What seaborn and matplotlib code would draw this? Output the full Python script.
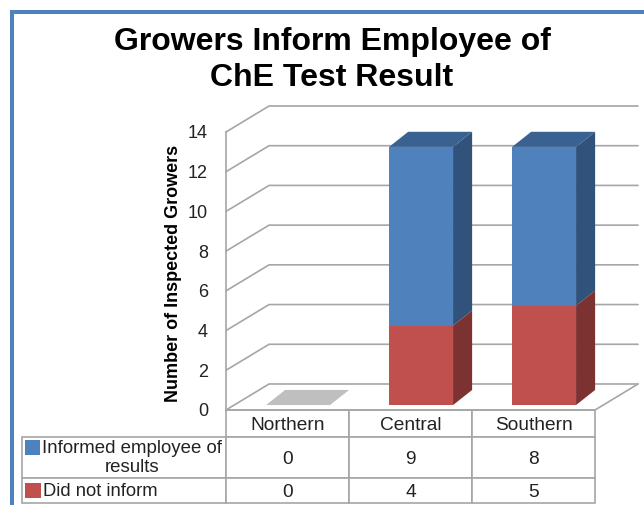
"""Stacked pseudo-3D bars with a data table: growers informing employees of ChE results."""

import matplotlib.pyplot as plt
import pandas as pd
import seaborn as sns
from matplotlib.patches import Polygon, Rectangle

regions = ["Northern", "Central", "Southern"]
informed = [0, 9, 8]
did_not_inform = [0, 4, 5]
series_names = ["Informed employee of\nresults", "Did not inform"]
y_ticks = [0, 2, 4, 6, 8, 10, 12, 14]

BLUE, BLUE_SIDE, BLUE_TOP = "#4F81BD", "#31527A", "#3A6290"
RED, RED_SIDE = "#C0504D", "#7C3231"
GRID = "#A6A6A6"
W, H = 644, 505

sns.set_theme(style="white")
plt.rcParams["font.family"] = ["Liberation Sans", "DejaVu Sans"]

fig = plt.figure(figsize=(W / 100, H / 100), dpi=100)
ax = fig.add_axes([226 / W, 1 - 410 / H, 369 / W, 278 / H])

df = pd.DataFrame({"region": regions, "informed": informed, "not_informed": did_not_inform})
df["total"] = df["informed"] + df["not_informed"]

# stacked look: full height in blue, red drawn over it
sns.barplot(data=df, x="region", y="total", color=BLUE, saturation=1, width=0.52, linewidth=0, ax=ax)
sns.barplot(data=df, x="region", y="not_informed", color=RED, saturation=1, width=0.52, linewidth=0, ax=ax)
ax.set_xlim(-0.5, 2.5)
ax.set_ylim(0, 14)

# depth of the box and of the bars, in data units
wall_dx, wall_dy = 0.35, 1.31
bar_dx, bar_dy = 0.155, 0.76
shift_x, shift_y = 0.086, 0.25


def face(points, color, z=1.0, lw=0.0):
    ax.add_patch(Polygon(points, closed=True, facecolor=color, edgecolor=color, lw=lw, zorder=z, clip_on=False))


# back wall gridlines and floor
for t in y_ticks:
    ax.plot([-0.5, -0.5 + wall_dx, 2.5 + wall_dx], [t, t + wall_dy, t + wall_dy], color=GRID, lw=1.2, zorder=0.5, clip_on=False)
ax.plot([2.5, 2.5 + wall_dx], [0, wall_dy], color=GRID, lw=1.2, zorder=0.5, clip_on=False)

n = len(regions)
for i, patch in enumerate(ax.patches[:2 * n]):
    patch.set_x(patch.get_x() + shift_x)
    patch.set_y(patch.get_y() + shift_y)
    patch.set_zorder(2 if i < n else 2.1)
    patch.set_clip_on(False)

for i in range(n):
    blue, red = ax.patches[i], ax.patches[i + n]
    x0, x1 = blue.get_x(), blue.get_x() + blue.get_width()
    y0, yr, yt = blue.get_y(), red.get_y() + red.get_height(), blue.get_y() + blue.get_height()
    top_color = BLUE_TOP if df["total"][i] > 0 else "#BFBFBF"
    face([(x0, yt), (x1, yt), (x1 + bar_dx, yt + bar_dy), (x0 + bar_dx, yt + bar_dy)], top_color, 1.9)
    if df["total"][i] > 0:
        face([(x1, yr), (x1, yt), (x1 + bar_dx, yt + bar_dy), (x1 + bar_dx, yr + bar_dy)], BLUE_SIDE, 1.8)
        face([(x1, y0), (x1, yr), (x1 + bar_dx, yr + bar_dy), (x1 + bar_dx, y0 + bar_dy)], RED_SIDE, 1.85)

ax.set_yticks(y_ticks)
ax.tick_params(axis="y", labelsize=13, length=0, pad=13, labelcolor="#222222")
ax.set_xticks([])
ax.set_xlabel("")
ax.set_ylabel("Number of Inspected Growers", fontsize=13, fontweight="bold", color="black")
ax.yaxis.set_label_coords(-0.118, 0.49)
sns.despine(ax=ax, left=False, bottom=False, right=True, top=True)
for side in ["left", "bottom"]:
    ax.spines[side].set_color(GRID)
    ax.spines[side].set_linewidth(1.2)

# data table under the axes
table_rows = [
    [""] + regions,
    [""] + [str(v) for v in informed],
    [""] + [str(v) for v in did_not_inform],
]
table = ax.table(
    cellText=table_rows,
    colWidths=[204 / 369, 1 / 3, 1 / 3, 1 / 3],
    cellLoc="center",
    bbox=[-204 / 369, -93 / 278, 573 / 369, 93 / 278],
)
table.auto_set_font_size(False)
row_heights = [27, 41, 25]
for (row, col), cell in table.get_celld().items():
    cell.set_height(row_heights[row])
    cell.set_edgecolor(GRID)
    cell.set_linewidth(1.2)
    cell.set_text_props(fontsize=13.8, color="#222222", va="center_baseline")
table[(0, 0)].visible_edges = "open"

# row labels and colour keys
ax.text(-94 / 369, -48 / 278, series_names[0], transform=ax.transAxes, ha="center", va="center", fontsize=13.4, color="#222222", linespacing=1.1)
ax.text(-183 / 369, -81 / 278, series_names[1], transform=ax.transAxes, ha="left", va="center", fontsize=13.2, color="#222222")
ax.add_patch(Rectangle((-201 / 369, -45 / 278), 15 / 369, 15 / 278, transform=ax.transAxes, facecolor=BLUE, edgecolor="none", clip_on=False, zorder=5))
ax.add_patch(Rectangle((-201 / 369, -88 / 278), 16 / 369, 15 / 278, transform=ax.transAxes, facecolor=RED, edgecolor="none", clip_on=False, zorder=5))

fig.text(332 / W, 1 - 60 / H, "Growers Inform Employee of\nChE Test Result", ha="center", va="center", fontsize=23, fontweight="bold", color="black", linespacing=1.3)

# slide frame along the top and left edge
fig.add_artist(Rectangle((10 / W, 1 - 14 / H), 634 / W, 4 / H, transform=fig.transFigure, facecolor=BLUE, edgecolor="none"))
fig.add_artist(Rectangle((10 / W, 0), 4 / W, 1 - 10 / H, transform=fig.transFigure, facecolor=BLUE, edgecolor="none"))

fig.savefig("out.png", dpi=100)
